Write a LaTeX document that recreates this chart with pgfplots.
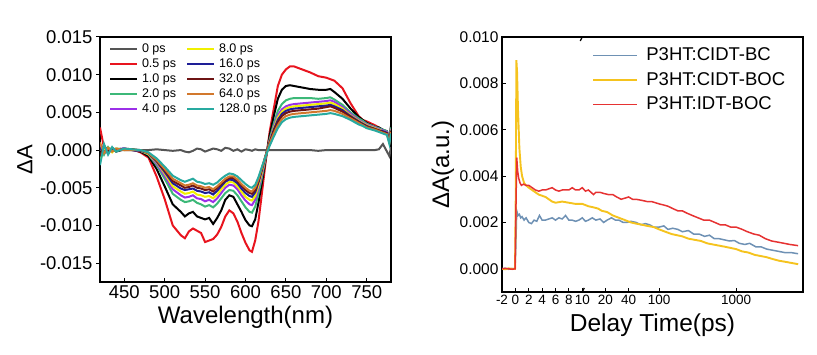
\documentclass[border=0pt]{standalone}
\usepackage{pgfplots}
\pgfplotsset{compat=1.18}
\usepackage{pgfplotstable}
\usepackage{fontspec}
\setmainfont{Liberation Sans}

\definecolor{cgray}{HTML}{555555}
\definecolor{cred}{HTML}{E8141E}
\definecolor{cblack}{HTML}{000000}
\definecolor{cgreen}{HTML}{3CB878}
\definecolor{cpurple}{HTML}{9B30E8}
\definecolor{cyellow}{HTML}{F0F000}
\definecolor{cnavy}{HTML}{1E1E96}
\definecolor{cmaroon}{HTML}{6E1414}
\definecolor{corange}{HTML}{D2782D}
\definecolor{cteal}{HTML}{28AAA0}
\definecolor{rblue}{HTML}{6E91B4}
\definecolor{ryellow}{HTML}{F5C31E}
\definecolor{rred}{HTML}{E63232}

\pgfplotstableread{
wl   s0      s05     s1      s2      s4      s8      s16     s32     s64     s128
420  0.0000  0.0030 -0.0010  0.0008  0.0005 -0.0015  0.0003 -0.0008  0.0010 -0.0020
425  0.0000  0.0003  0.0005 -0.0006  0.0004  0.0002 -0.0003  0.0006 -0.0004  0.0008
430  0.0001 -0.0004 -0.0002  0.0004 -0.0005  0.0003  0.0002 -0.0002  0.0003 -0.0006
435  0.0000  0.0002  0.0002 -0.0002  0.0002 -0.0003 -0.0001  0.0003 -0.0002  0.0004
440  0.0000  0.0000 -0.0002  0.0002  0.0001  0.0002  0.0001 -0.0001  0.0002 -0.0002
450  0.0000  0.0002  0.0001  0.0001  0.0002  0.0000  0.0002  0.0001  0.0000  0.0002
460  0.0000  0.0001  0.0000  0.0001  0.0000  0.0001  0.0000  0.0001  0.0000  0.0001
470  0.0000 -0.0003 -0.0002 -0.0001 -0.0001 -0.0001 -0.0001  0.0000  0.0000  0.0000
480  0.0000 -0.0010 -0.0008 -0.0006 -0.0005 -0.0005 -0.0004 -0.0004 -0.0004 -0.0003
490  0.0001 -0.0035 -0.0025 -0.0020 -0.0018 -0.0016 -0.0015 -0.0014 -0.0013 -0.0011
500  0.0000 -0.0065 -0.0048 -0.0038 -0.0034 -0.0031 -0.0029 -0.0027 -0.0025 -0.0022
510 -0.0001 -0.0100 -0.0072 -0.0058 -0.0052 -0.0048 -0.0044 -0.0041 -0.0038 -0.0034
520  0.0000 -0.0113 -0.0082 -0.0066 -0.0060 -0.0055 -0.0051 -0.0047 -0.0044 -0.0040
525 -0.0002 -0.0117 -0.0088 -0.0069 -0.0063 -0.0058 -0.0053 -0.0050 -0.0047 -0.0042
530 -0.0003 -0.0108 -0.0084 -0.0068 -0.0062 -0.0057 -0.0052 -0.0049 -0.0046 -0.0040
535 -0.0001 -0.0104 -0.0082 -0.0066 -0.0060 -0.0055 -0.0051 -0.0047 -0.0044 -0.0038
540  0.0002 -0.0107 -0.0088 -0.0070 -0.0064 -0.0059 -0.0054 -0.0050 -0.0047 -0.0042
545  0.0001 -0.0110 -0.0090 -0.0072 -0.0065 -0.0060 -0.0055 -0.0051 -0.0048 -0.0043
550 -0.0002 -0.0122 -0.0092 -0.0075 -0.0068 -0.0062 -0.0057 -0.0053 -0.0050 -0.0045
555  0.0000 -0.0120 -0.0090 -0.0073 -0.0066 -0.0061 -0.0056 -0.0052 -0.0049 -0.0044
560  0.0002 -0.0118 -0.0098 -0.0076 -0.0069 -0.0064 -0.0059 -0.0055 -0.0052 -0.0046
565  0.0001 -0.0112 -0.0090 -0.0071 -0.0064 -0.0059 -0.0054 -0.0050 -0.0048 -0.0043
570 -0.0001 -0.0102 -0.0080 -0.0064 -0.0057 -0.0052 -0.0048 -0.0045 -0.0043 -0.0038
575  0.0003 -0.0088 -0.0066 -0.0057 -0.0050 -0.0046 -0.0042 -0.0040 -0.0038 -0.0034
580  0.0002 -0.0080 -0.0060 -0.0053 -0.0046 -0.0042 -0.0039 -0.0037 -0.0035 -0.0031
585 -0.0001 -0.0084 -0.0062 -0.0054 -0.0047 -0.0043 -0.0040 -0.0037 -0.0035 -0.0032
590  0.0001 -0.0095 -0.0072 -0.0060 -0.0052 -0.0048 -0.0044 -0.0041 -0.0039 -0.0035
595 -0.0002 -0.0110 -0.0082 -0.0068 -0.0060 -0.0055 -0.0051 -0.0047 -0.0045 -0.0040
600  0.0001 -0.0123 -0.0093 -0.0076 -0.0067 -0.0062 -0.0057 -0.0053 -0.0050 -0.0045
605  0.0000 -0.0133 -0.0100 -0.0082 -0.0072 -0.0066 -0.0061 -0.0057 -0.0054 -0.0049
608 -0.0001 -0.0135 -0.0101 -0.0083 -0.0073 -0.0067 -0.0062 -0.0058 -0.0055 -0.0050
612  0.0001 -0.0120 -0.0092 -0.0075 -0.0066 -0.0061 -0.0056 -0.0053 -0.0050 -0.0046
616  0.0000 -0.0095 -0.0070 -0.0058 -0.0051 -0.0047 -0.0043 -0.0041 -0.0039 -0.0036
620  0.0000 -0.0060 -0.0045 -0.0038 -0.0034 -0.0031 -0.0028 -0.0026 -0.0025 -0.0023
625  0.0000 -0.0015 -0.0012 -0.0010 -0.0009 -0.0008 -0.0007 -0.0007 -0.0007 -0.0008
630  0.0000  0.0025  0.0020  0.0015  0.0013  0.0012  0.0011  0.0010  0.0009  0.0006
635  0.0000  0.0055  0.0045  0.0035  0.0031  0.0029  0.0027  0.0025  0.0022  0.0018
640  0.0000  0.0085  0.0068  0.0052  0.0046  0.0043  0.0040  0.0037  0.0033  0.0029
645  0.0000  0.0100  0.0080  0.0061  0.0054  0.0051  0.0048  0.0045  0.0041  0.0037
650  0.0000  0.0107  0.0085  0.0066  0.0058  0.0055  0.0052  0.0049  0.0045  0.0041
655  0.0000  0.0111  0.0086  0.0068  0.0060  0.0057  0.0054  0.0051  0.0047  0.0043
660  0.0000  0.0111  0.0085  0.0069  0.0061  0.0058  0.0055  0.0052  0.0048  0.0044
670  0.0000  0.0107  0.0083  0.0069  0.0062  0.0059  0.0056  0.0053  0.0049  0.0045
680  0.0000  0.0103  0.0081  0.0069  0.0063  0.0060  0.0057  0.0054  0.0050  0.0046
690 -0.0001  0.0098  0.0080  0.0068  0.0064  0.0061  0.0058  0.0055  0.0051  0.0047
700  0.0000  0.0096  0.0080  0.0069  0.0065  0.0062  0.0059  0.0057  0.0052  0.0048
705  0.0000  0.0094  0.0081  0.0070  0.0066  0.0063  0.0060  0.0058  0.0053  0.0049
710  0.0000  0.0092  0.0077  0.0067  0.0064  0.0061  0.0058  0.0056  0.0052  0.0048
720  0.0000  0.0082  0.0068  0.0060  0.0057  0.0055  0.0053  0.0051  0.0048  0.0045
730  0.0000  0.0062  0.0055  0.0050  0.0048  0.0046  0.0045  0.0044  0.0042  0.0040
740  0.0000  0.0045  0.0044  0.0042  0.0040  0.0039  0.0038  0.0037  0.0036  0.0034
745  0.0000  0.0040  0.0040  0.0039  0.0037  0.0036  0.0035  0.0034  0.0033  0.0032
750  0.0000  0.0038  0.0036  0.0035  0.0034  0.0033  0.0032  0.0031  0.0030  0.0029
760  0.0000  0.0033  0.0031  0.0031  0.0030  0.0029  0.0028  0.0028  0.0027  0.0026
765  0.0001  0.0030  0.0030  0.0029  0.0028  0.0027  0.0026  0.0026  0.0025  0.0024
770  0.0008  0.0025  0.0027  0.0027  0.0026  0.0025  0.0025  0.0024  0.0023  0.0022
775 -0.0002  0.0022  0.0025  0.0025  0.0024  0.0023  0.0023  0.0022  0.0021  0.0020
778 -0.0008  0.0012  0.0014  0.0014  0.0013  0.0012  0.0012  0.0011  0.0010  0.0008
780  0.0004  0.0030  0.0032  0.0030  0.0028  0.0027  0.0026  0.0025  0.0024  0.0022
}\spectra

\pgfplotstableread{
t A
-2 0.0000
-1.5 0.00002
-1 -0.00002
-0.5 0.00001
-0.05 0.0000
0.05 0.0008
0.2 0.0025
0.4 0.0023
0.6 0.00235
0.8 0.0022
1.0 0.00225
1.3 0.0021
1.6 0.0022
2.0 0.0020
2.4 0.00195
2.8 0.0021
3.2 0.00205
3.6 0.0023
4.0 0.0021
4.5 0.0021
5 0.00215
5.5 0.0022
6 0.0021
6.5 0.0022
7 0.00215
7.5 0.0023
8 0.0021
8.5 0.0021
9 0.00205
9.5 0.0021
10 0.0022
11 0.00205
12 0.0021
13.5 0.0022
15 0.0021
17 0.00215
19 0.0020
21 0.0021
24 0.0022
27 0.0021
30 0.0021
34 0.0020
38 0.0020
43 0.00205
50 0.0020
58 0.0019
66 0.00195
75 0.0019
85 0.0018
100 0.0018
115 0.00185
130 0.0017
150 0.00175
175 0.0017
200 0.0016
240 0.00165
280 0.0015
330 0.0015
390 0.0014
450 0.00145
520 0.0013
600 0.0013
700 0.00125
820 0.0012
950 0.00122
1100 0.0011
1300 0.00105
1500 0.0011
1800 0.00095
2100 0.00095
2500 0.00085
3000 0.0008
3600 0.00075
4300 0.0007
5200 0.0007
6400 0.00065
}\cidtbc

\pgfplotstableread{
t A
-2 0.0000
-1.5 -0.00002
-1 0.00002
-0.5 0.0000
-0.05 0.0000
0.05 0.0030
0.15 0.0090
0.25 0.0085
0.4 0.0068
0.6 0.0052
0.8 0.0044
1.0 0.0040
1.3 0.0037
1.6 0.0036
2.0 0.0035
2.5 0.0034
3.0 0.0033
3.5 0.0032
4.0 0.00315
4.5 0.0031
5 0.0030
5.5 0.0029
6 0.00285
7 0.0029
8 0.00285
9 0.0028
10 0.0028
11 0.00275
12 0.0027
14 0.00265
16 0.0026
18 0.0025
21 0.00245
25 0.0023
30 0.0022
36 0.0021
43 0.0020
50 0.00195
60 0.0019
70 0.00185
85 0.0018
100 0.0017
120 0.0016
145 0.0015
170 0.00145
200 0.0014
240 0.0013
290 0.00125
350 0.0012
420 0.0011
500 0.00105
600 0.0010
720 0.00095
850 0.0009
1000 0.00085
1200 0.00075
1450 0.0007
1750 0.0006
2100 0.00055
2500 0.0005
3000 0.00042
3600 0.00035
4400 0.0003
5300 0.00025
6400 0.0002
}\cidtboc

\pgfplotstableread{
t A
-2 0.0000
-1.5 0.00002
-1 0.0000
-0.5 -0.00002
-0.05 0.0000
0.05 0.0020
0.2 0.0048
0.35 0.0042
0.5 0.0039
0.7 0.0037
0.9 0.0036
1.2 0.00365
1.6 0.0036
2.0 0.0036
2.5 0.0035
3.0 0.0034
3.5 0.00335
4.0 0.0034
4.5 0.0034
5 0.00345
5.5 0.0035
6 0.0034
6.5 0.00335
7 0.0034
7.5 0.0034
8 0.0034
8.5 0.0035
9 0.0034
9.5 0.0034
10 0.0035
11 0.00335
12 0.0034
13 0.0033
14 0.0032
15 0.0033
17 0.0033
19 0.00325
22 0.0032
25 0.0032
28 0.0031
32 0.0030
36 0.00305
40 0.0031
45 0.0030
50 0.0030
60 0.00295
70 0.0029
80 0.0029
100 0.0028
115 0.00275
130 0.0027
150 0.0026
175 0.0025
200 0.0025
230 0.0024
270 0.0023
320 0.0022
380 0.0021
450 0.0021
530 0.0020
620 0.0019
720 0.0019
850 0.0018
1000 0.0018
1200 0.0017
1400 0.0016
1700 0.0015
2000 0.00145
2400 0.0013
2900 0.0012
3500 0.00115
4200 0.0011
5000 0.00105
6400 0.0010
}\idtboc

\begin{document}
\begin{tikzpicture}
\path[use as bounding box] (0pt,0pt) rectangle (817pt,355pt);

% ---------- left panel ----------
\begin{axis}[
  at={(100pt,73pt)}, anchor=south west, scale only axis,
  width=291pt, height=245pt,
  xmin=420, xmax=780, ymin=-0.0175, ymax=0.015,
  xtick={450,500,550,600,650,700,750},
  ytick={-0.015,-0.010,-0.005,0,0.005,0.010,0.015},
  xtick pos=bottom, ytick pos=left,
  scaled y ticks=false,
  yticklabel style={/pgf/number format/fixed, /pgf/number format/fixed zerofill, /pgf/number format/precision=3, /pgf/number format/assume math mode=true},
  xticklabel style={/pgf/number format/assume math mode=true},
  tick label style={font=\fontsize{18.5}{21}\selectfont},
  ytick align=outside, xtick align=inside, major tick length=4pt,
  tick style={black, line width=1pt},
  axis line style={line width=1.3pt},
  xlabel={Wavelength(nm)},
  ylabel={ΔA},
  xlabel style={font=\fontsize{24}{28}\selectfont, at={(axis description cs:0.5,0)}, anchor=center, yshift=-35pt},
  ylabel style={font=\fontsize{22}{26}\selectfont, at={(axis description cs:-0.258,0.5)}, anchor=center},
  legend columns=2,
  legend cell align=left,
  legend style={draw=none, fill=none, at={(0.02,0.99)}, anchor=north west,
    font=\fontsize{12.5}{13}\selectfont,
    nodes={minimum height=15pt, inner ysep=0pt, inner xsep=4pt},
    /tikz/column 2/.style={column sep=6pt}},
  legend image code/.code={\draw[#1] (0pt,0pt) -- (27pt,0pt);},
  every axis plot/.append style={line width=2pt},
]
\addplot[cgray, forget plot] table[x=wl, y=s0] {\spectra};
\addplot[cred, forget plot] table[x=wl, y=s05] {\spectra};
\addplot[cblack, forget plot] table[x=wl, y=s1] {\spectra};
\addplot[cgreen, forget plot] table[x=wl, y=s2] {\spectra};
\addplot[cpurple, forget plot] table[x=wl, y=s4] {\spectra};
\addplot[cyellow, forget plot] table[x=wl, y=s8] {\spectra};
\addplot[cnavy, forget plot] table[x=wl, y=s16] {\spectra};
\addplot[cmaroon, forget plot] table[x=wl, y=s32] {\spectra};
\addplot[corange, forget plot] table[x=wl, y=s64] {\spectra};
\addplot[cteal, forget plot] table[x=wl, y=s128] {\spectra};
\addlegendimage{cgray, line width=2pt}   \addlegendentry{0 ps}
\addlegendimage{cyellow, line width=2pt} \addlegendentry{8.0 ps}
\addlegendimage{cred, line width=2pt}    \addlegendentry{0.5 ps}
\addlegendimage{cnavy, line width=2pt}   \addlegendentry{16.0 ps}
\addlegendimage{cblack, line width=2pt}  \addlegendentry{1.0 ps}
\addlegendimage{cmaroon, line width=2pt} \addlegendentry{32.0 ps}
\addlegendimage{cgreen, line width=2pt}  \addlegendentry{2.0 ps}
\addlegendimage{corange, line width=2pt} \addlegendentry{64.0 ps}
\addlegendimage{cpurple, line width=2pt} \addlegendentry{4.0 ps}
\addlegendimage{cteal, line width=2pt}   \addlegendentry{128.0 ps}
\end{axis}

% ---------- right panel ----------
\begin{axis}[
  at={(502pt,63pt)}, anchor=south west, scale only axis,
  width=301pt, height=255pt,
  xmin=-2, xmax=43, ymin=-0.001, ymax=0.010,
  xtick={-2,0,2,4,6,8,10,13.462,16.924,21.5,33},
  xticklabels={-2,0,2,4,6,8,10,20,40,100,1000},
  ytick={0,0.002,0.004,0.006,0.008,0.010},
  xtick pos=bottom, ytick pos=left,
  scaled y ticks=false,
  yticklabel style={font=\fontsize{15.5}{18}\selectfont, /pgf/number format/fixed, /pgf/number format/fixed zerofill, /pgf/number format/precision=3, /pgf/number format/assume math mode=true},
  xticklabel style={font=\fontsize{13.5}{16}\selectfont, inner xsep=0pt},
  tick align=inside, major tick length=4pt,
  tick style={black, line width=1pt},
  axis line style={line width=1.3pt},
  xlabel={Delay Time(ps)},
  ylabel={ΔA(a.u.)},
  xlabel style={font=\fontsize{24.5}{28}\selectfont, at={(axis description cs:0.5,0)}, anchor=center, yshift=-33pt},
  ylabel style={font=\fontsize{24}{28}\selectfont, at={(axis description cs:-0.196,0.5)}, anchor=center},
  legend cell align=left,
  legend style={draw=none, fill=none, at={(0.29,0.985)}, anchor=north west,
    font=\fontsize{18.5}{20}\selectfont,
    nodes={minimum height=24.5pt, inner ysep=0pt, inner xsep=8pt}},
  legend image code/.code={\draw[#1] (0pt,0pt) -- (44pt,0pt);},
  every axis plot/.append style={line width=1.5pt},
]
\addplot[rblue] table[x expr={\thisrow{t}<=10 ? \thisrow{t} : 10+11.5*log10(max(\thisrow{t},10)/10)}, y=A] {\cidtbc};
\addlegendentry{P3HT:CIDT-BC}
\addplot[ryellow, line width=1.9pt] table[x expr={\thisrow{t}<=10 ? \thisrow{t} : 10+11.5*log10(max(\thisrow{t},10)/10)}, y=A] {\cidtboc};
\addlegendentry{P3HT:CIDT-BOC}
\addplot[rred] table[x expr={\thisrow{t}<=10 ? \thisrow{t} : 10+11.5*log10(max(\thisrow{t},10)/10)}, y=A] {\idtboc};
\addlegendentry{P3HT:IDT-BOC}
\draw[line width=1.3pt] ([xshift=-2pt,yshift=-4pt]axis cs:10,-0.001) -- ([xshift=2pt,yshift=4pt]axis cs:10,-0.001);
\draw[line width=1.3pt] ([xshift=-2pt,yshift=-4pt]axis cs:10,0.010) -- ([xshift=2pt,yshift=4pt]axis cs:10,0.010);
\end{axis}
\end{tikzpicture}
\end{document}
